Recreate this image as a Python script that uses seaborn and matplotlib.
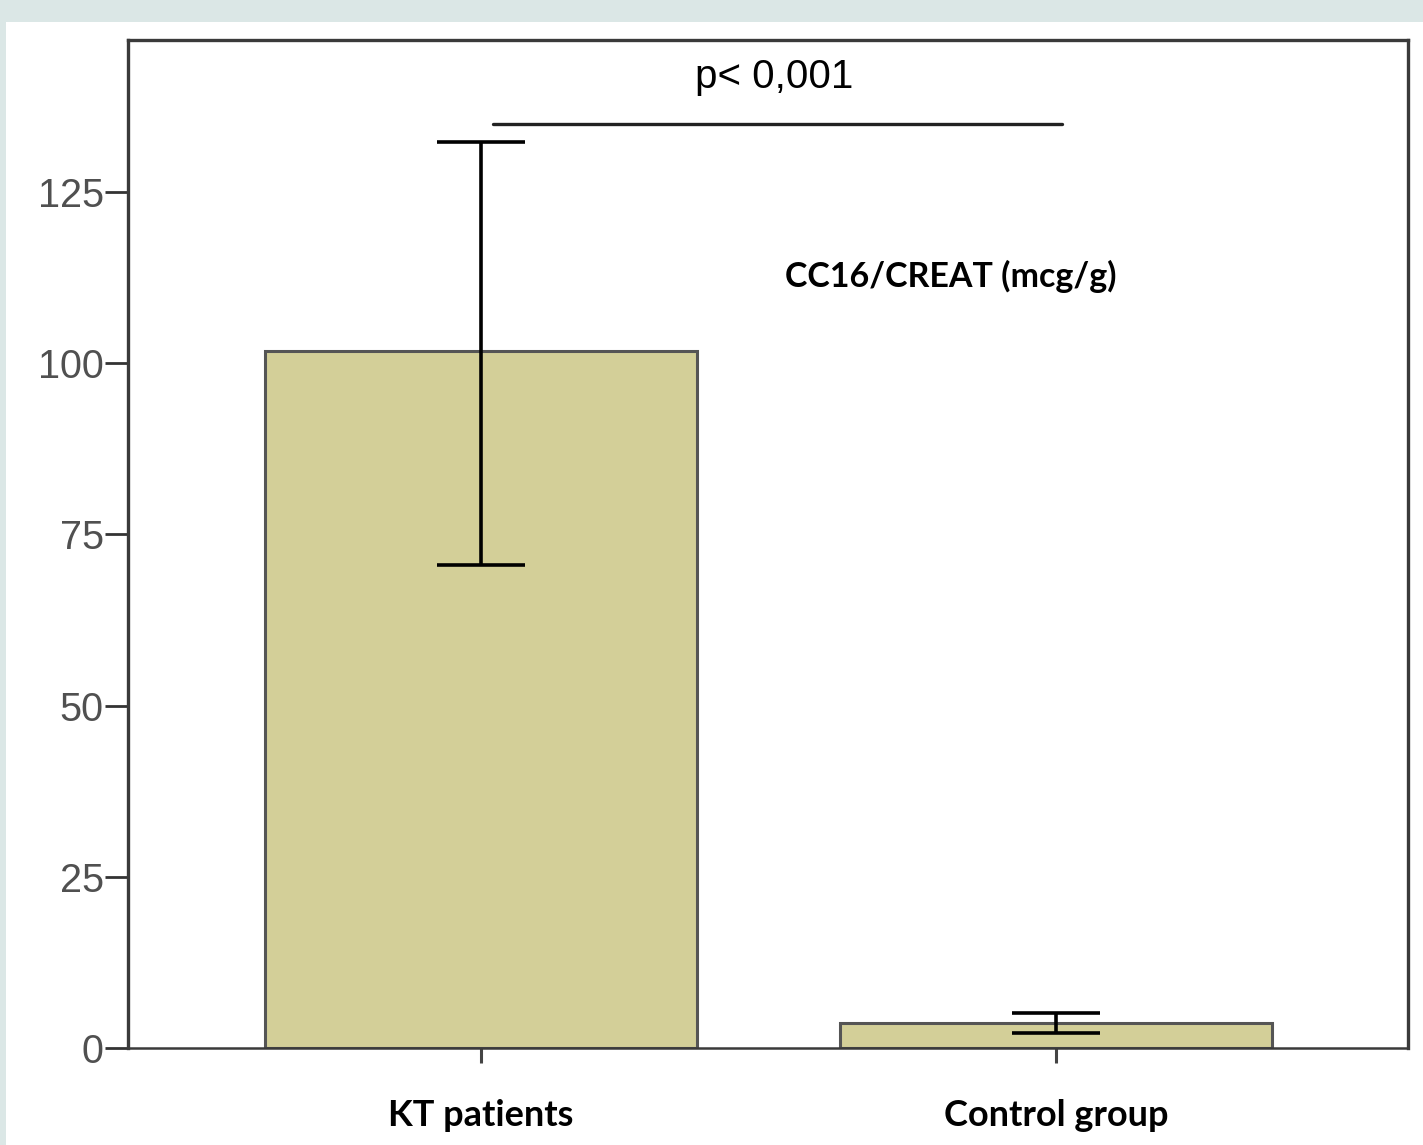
import pandas as pd
import matplotlib
matplotlib.use("Agg")
import matplotlib.pyplot as plt
import seaborn as sns
from matplotlib.patches import Rectangle

# Data
groups = ["KT patients", "Control group"]
means = [101.8, 3.7]
err_low = [70.5, 2.2]
err_high = [132.3, 5.1]
y_ticks = [0, 25, 50, 75, 100, 125]
p_text = "p< 0,001"
measure_label = "CC16/CREAT (mcg/g)"

df = pd.DataFrame({"group": groups, "mean": means})

sns.set_style("white")
plt.rcParams["font.family"] = ["Liberation Sans", "DejaVu Sans"]

fig = plt.figure(figsize=(14.23, 11.45), dpi=100)
fig.patch.set_facecolor("#dbe7e6")
fig.add_artist(Rectangle((6 / 1423, 0), 1, (1145 - 22) / 1145,
                         transform=fig.transFigure, facecolor="white",
                         edgecolor="none", zorder=-10))

ax = fig.add_axes([128 / 1423, 97 / 1145, 1280 / 1423, 1008 / 1145])
ax.set_facecolor("white")

sns.barplot(data=df, x="group", y="mean", color="#d3cf98", width=0.75,
            errorbar=None, edgecolor="#555555", linewidth=2.2,
            saturation=1, ax=ax)

# error bars
yerr = [[m - lo for m, lo in zip(means, err_low)],
        [hi - m for m, hi in zip(means, err_high)]]
ax.errorbar(range(len(groups)), means, yerr=yerr, fmt="none",
            ecolor="black", elinewidth=2.6, capsize=32, capthick=2.6,
            zorder=5)

# significance line and label
ax.plot([0.021, 1.01], [134.9, 134.9], color="#222222", lw=2.4)
ax.text(0.51, 140.2, p_text, ha="center", va="baseline",
        fontsize=29, color="black")
ax.text(0.817, 111.2, measure_label, ha="center", va="baseline",
        fontsize=24.5, fontweight="bold", family=["Lato", "DejaVu Sans"],
        color="black")

ax.set_xlim(-0.614, 1.612)
ax.set_ylim(0, 147.2)
ax.set_yticks(y_ticks)
ax.set_yticklabels([str(t) for t in y_ticks], fontsize=28.5, color="#505050")
ax.set_xticks(range(len(groups)))
ax.set_xticklabels(groups, fontsize=26, fontweight="bold",
                   family=["Lato", "DejaVu Sans"], color="black")
ax.tick_params(axis="y", direction="out", length=16.5, width=2,
               color="#333333", pad=1, left=True)
ax.tick_params(axis="x", direction="out", length=11, width=2.2,
               color="#444444", pad=26, bottom=True)
ax.set_xlabel("")
ax.set_ylabel("")

for side in ["left", "top", "right", "bottom"]:
    ax.spines[side].set_visible(True)
    ax.spines[side].set_color("#3a3a3a")
    ax.spines[side].set_linewidth(2.4)
ax.spines["bottom"].set_linewidth(1.8)

fig.savefig("out.png", dpi=100, facecolor=fig.get_facecolor())
